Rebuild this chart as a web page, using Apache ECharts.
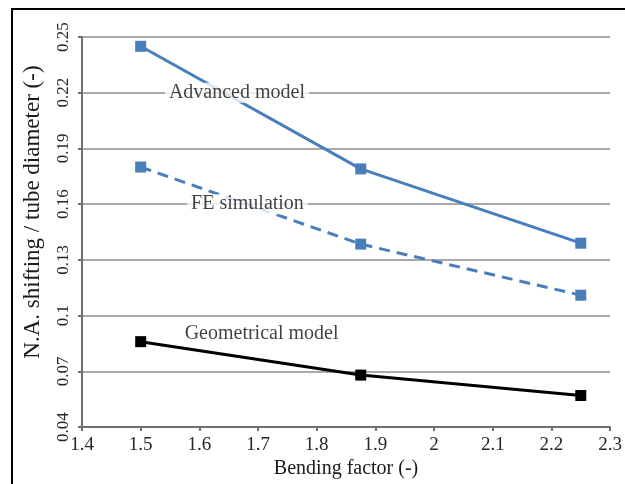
<!DOCTYPE html>
<html>
<head>
<meta charset="utf-8">
<script src="https://cdn.jsdelivr.net/npm/echarts@6/dist/echarts.min.js"></script>
<style>
  html, body { margin: 0; padding: 0; background: #fff; }
  #wrap { position: relative; width: 625px; height: 484px; overflow: hidden; }
  #frame { position: absolute; left: 11px; top: 8px; width: 640px; height: 500px;
           border: 2px solid #000; box-sizing: border-box; pointer-events: none; z-index: 2; }
  #chart { position: absolute; left: 0; top: 0; width: 625px; height: 484px; }
</style>
</head>
<body>
<div id="wrap">
  <div id="chart"></div>
  <div id="frame"></div>
</div>
<script>
// bending factor values on x
const bendingFactor = [1.5, 1.875, 2.25];
const advancedModel = [0.245, 0.179, 0.139];
const feSimulation = [0.18, 0.1385, 0.111];
const geometricalModel = [0.086, 0.068, 0.057];

// in-plot labels: [x, y, text]
const seriesLabels = [
  [1.664, 0.22, 'Advanced model'],
  [1.682, 0.16, 'FE simulation'],
  [1.706, 0.0905, 'Geometrical model']
];

const blue = '#4a7ebb';
const serif = '"Liberation Serif", "DejaVu Serif", serif';

const chart = echarts.init(document.getElementById('chart'));

function pairs(ys) {
  return bendingFactor.map((x, i) => [x, ys[i]]);
}

function lineSeries(name, ys, color, type) {
  return {
    name: name,
    type: 'line',
    data: pairs(ys),
    symbol: 'rect',
    symbolSize: 11,
    showSymbol: true,
    z: 3,
    lineStyle: { color: color, width: 3, type: type },
    itemStyle: { color: color },
    emphasis: { disabled: true },
    animation: false
  };
}

chart.setOption({
  backgroundColor: '#fff',
  animation: false,
  textStyle: { fontFamily: serif },
  grid: { left: 82, right: 13, top: 37, bottom: 52, containLabel: false },
  xAxis: {
    type: 'value',
    min: 1.4,
    max: 2.3,
    interval: 0.1,
    name: 'Bending factor (-)',
    nameLocation: 'middle',
    nameGap: 27,
    nameTextStyle: { fontFamily: serif, fontSize: 20, color: '#1a1a1a' },
    axisLine: { show: true, lineStyle: { color: '#6f6f6f', width: 2 } },
    axisTick: { show: true, length: 4, lineStyle: { color: '#6f6f6f', width: 2 } },
    splitLine: { show: false },
    axisLabel: {
      fontFamily: serif, fontSize: 19, color: '#262626', margin: 8,
      formatter: v => String(Math.round(v * 10) / 10)
    }
  },
  yAxis: {
    type: 'value',
    min: 0.04,
    max: 0.25,
    interval: 0.03,
    name: 'N.A. shifting / tube diameter (-)',
    nameLocation: 'middle',
    nameGap: 38,
    nameRotate: 90,
    nameTextStyle: { fontFamily: serif, fontSize: 23, color: '#1a1a1a', padding: [0, 0, 0, 40] },
    axisLine: { show: true, lineStyle: { color: '#6f6f6f', width: 2 } },
    axisTick: { show: true, length: 4, lineStyle: { color: '#6f6f6f', width: 2 } },
    splitLine: { show: true, lineStyle: { color: '#8c8c8c', width: 1.5 } },
    axisLabel: {
      fontFamily: serif, fontSize: 17, color: '#262626', rotate: 90, margin: 10,
      formatter: v => String(Math.round(v * 100) / 100)
    }
  },
  series: [
    lineSeries('Advanced model', advancedModel, blue, 'solid'),
    lineSeries('FE simulation', feSimulation, blue, [11, 7]),
    lineSeries('Geometrical model', geometricalModel, '#000', 'solid'),
    {
      type: 'scatter',
      data: seriesLabels.map(d => ({ value: [d[0], d[1]], name: d[2] })),
      symbolSize: 0,
      z: 5,
      silent: true,
      label: {
        show: true,
        position: 'inside',
        formatter: p => p.name,
        fontFamily: serif,
        fontSize: 20,
        color: '#111',
        backgroundColor: '#fff',
        padding: [0, 4]
      },
      animation: false
    }
  ]
});
</script>
</body>
</html>
